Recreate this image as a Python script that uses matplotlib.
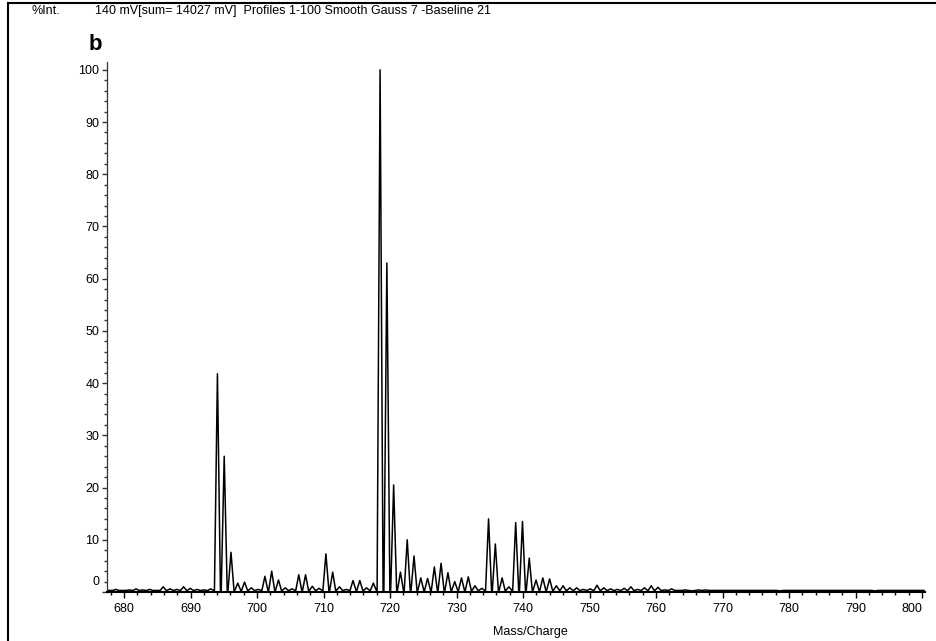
# Espectro de masas (MALDI) - reproducción del gráfico "b"
import matplotlib
matplotlib.use("Agg")
import matplotlib.pyplot as plt
from matplotlib import font_manager
from matplotlib.lines import Line2D
from matplotlib.ticker import MultipleLocator

# Se busca una fuente estrecha parecida a Arial Narrow
nombres = {f.name for f in font_manager.fontManager.ttflist}
if 'Liberation Sans Narrow' in nombres:
    plt.rcParams['font.family'] = ['Liberation Sans Narrow', 'DejaVu Sans']
    tam = 10.5
else:
    plt.rcParams['font.family'] = ['Liberation Sans', 'DejaVu Sans']
    tam = 9.0
plt.rcParams['font.size'] = tam

# Picos: masa (m/z) e intensidad relativa (%)
picos_mz = [678.76, 679.78, 680.80, 681.82, 682.84, 683.86, 684.88, 685.90, 686.92, 687.94,
            688.96, 689.97, 690.99, 692.01, 693.03, 694.05, 695.07, 696.09, 697.11, 698.13,
            699.15, 700.17, 701.19, 702.21, 703.23, 704.25, 705.27, 706.28, 707.30, 708.32,
            709.34, 710.36, 711.38, 712.40, 713.42, 714.44, 715.46, 716.48, 717.50, 718.51,
            719.53, 720.55, 721.57, 722.59, 723.61, 724.63, 725.65, 726.67, 727.68, 728.71,
            729.73, 730.75, 731.77, 732.78, 733.80, 734.82, 735.84, 736.86, 737.88, 738.90,
            739.92, 740.94, 741.96, 742.98, 744.00, 745.02, 746.03, 747.05, 748.07, 749.09,
            750.11, 751.13, 752.15, 753.17, 754.19, 755.21, 756.22, 757.24, 758.26, 759.28,
            760.30, 761.32, 762.34, 763.36, 764.38, 765.40, 766.42, 767.44, 768.46, 769.48,
            771.51, 772.53, 773.55, 777.63, 778.66, 784.76, 792.92]
picos_int = [0.5, 0.3, 0.4, 0.6, 0.4, 0.5, 0.3, 1.0, 0.6, 0.5, 1.0, 0.7, 0.5, 0.4, 0.6,
             41.8, 26.0, 7.6, 1.7, 1.9, 0.8, 0.5, 3.0, 4.0, 2.3, 0.8, 0.6, 3.3, 3.3, 1.1,
             0.7, 7.3, 3.8, 1.0, 0.5, 2.2, 2.2, 0.8, 1.7, 100.0, 63.0, 20.5, 3.8, 10.0, 6.9,
             2.7, 2.6, 4.8, 5.5, 3.7, 2.0, 2.7, 2.9, 1.2, 0.7, 14.0, 9.2, 2.7, 1.0, 13.3,
             13.5, 6.5, 2.3, 2.7, 2.5, 1.2, 1.2, 0.8, 0.8, 0.5, 0.6, 1.3, 0.8, 0.6, 0.5,
             0.7, 1.0, 0.5, 0.8, 1.2, 0.9, 0.4, 0.6, 0.3, 0.4, 0.2, 0.4, 0.4, 0.3, 0.3,
             0.3, 0.3, 0.3, 0.3, 0.2, 0.3, 0.2]
linea_base = 0.3
semiancho = 0.45
mz_inicio, mz_fin = 677.6, 800.3

titulo = "140 mV[sum= 14027 mV]  Profiles 1-100 Smooth Gauss 7 -Baseline 21"

# Se arma el perfil uniendo cada pico con la línea base
xs = [mz_inicio]
ys = [linea_base]
for m, h in zip(picos_mz, picos_int):
    xs += [m - semiancho, m, m + semiancho]
    ys += [linea_base, h, linea_base]
xs.append(mz_fin)
ys.append(linea_base)

W, H = 937, 641
fig = plt.figure(figsize=(W / 100, H / 100), dpi=100)

# Eje Y en x=107 px; 680 en 124 px y 800 en 922 px
px_por_unidad = (922 - 124) / 120
x_izq = 680 - (124 - 107) / px_por_unidad
x_der = 680 + (925 - 124) / px_por_unidad
ax = fig.add_axes([107 / W, 1 - 592 / H, (925 - 107) / W, (592 - 62) / H])
ax.plot(xs, ys, color='black', lw=1.1)
ax.set_xlim(x_izq, x_der)
ax.set_ylim(0, 101.5)

ax.spines['top'].set_visible(False)
ax.spines['right'].set_visible(False)
ax.spines['bottom'].set_linewidth(1.5)
ax.spines['left'].set_linewidth(0.9)
ax.spines['left'].set_color('#333333')

ax.set_xticks(range(680, 801, 10))
ax.xaxis.set_minor_locator(MultipleLocator(2))
ax.set_yticks(range(0, 101, 10))
ax.set_yticklabels([''] + [str(v) for v in range(10, 101, 10)])
ax.yaxis.set_minor_locator(MultipleLocator(2))
ax.tick_params(axis='x', which='major', length=4, width=1, pad=4)
ax.tick_params(axis='x', which='minor', length=2.3, width=1)
ax.tick_params(axis='y', which='major', length=3.4, width=1, pad=2, colors='#333333', labelcolor='black')
ax.tick_params(axis='y', which='minor', length=2.2, width=1, colors='#333333')
ax.xaxis.get_major_ticks()[-1].label1.set_horizontalalignment('right')

# La etiqueta "0" va un poco más arriba que su marca
ax.annotate('0', xy=(0, 0), xycoords=('axes fraction', 'data'),
            xytext=(-5.5, 7.5), textcoords='offset points', ha='right', va='center')

# Textos de la figura
fig.text(32 / W, 1 - 11 / H, '%Int.', va='center')
fig.text(95 / W, 1 - 11 / H, titulo, va='center')
fig.text(89 / W, 1 - 45 / H, 'b', fontsize=16, fontweight='bold', family='Liberation Sans', va='center')
fig.text(530 / W, 1 - 632 / H, 'Mass/Charge', ha='center', va='center')

# Marco superior e izquierdo
fig.add_artist(Line2D([8 / W, 1.0], [1 - 2.5 / H, 1 - 2.5 / H], color='black', lw=1.5))
fig.add_artist(Line2D([8 / W, 8 / W], [0, 1 - 2.5 / H], color='black', lw=1.5))

fig.savefig('out.png', dpi=100)
